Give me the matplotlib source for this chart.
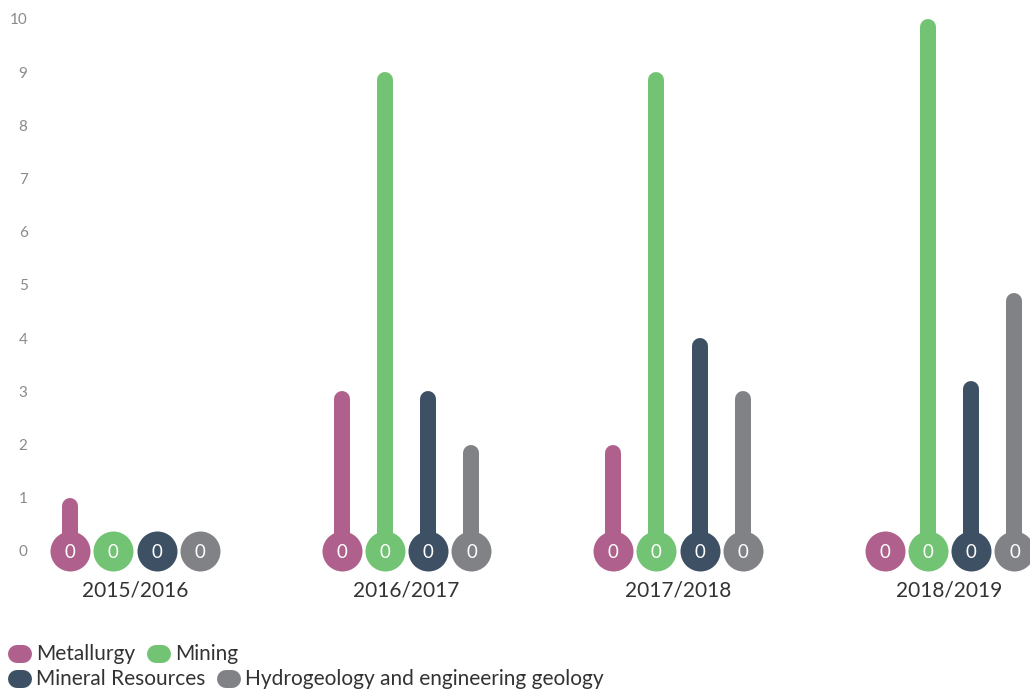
import matplotlib
matplotlib.use("Agg")
import matplotlib.pyplot as plt
from matplotlib.lines import Line2D

plt.rcParams['font.family'] = ['Lato', 'DejaVu Sans']

# 데이터
years = ["2015/2016", "2016/2017", "2017/2018", "2018/2019"]
series_names = ["Metallurgy", "Mining", "Mineral Resources", "Hydrogeology and engineering geology"]
metallurgy = [1, 3, 2, 0]
mining = [0, 9, 9, 10]
mineral_resources = [0, 3, 4, 3.2]
hydrogeology = [0, 2, 3, 4.85]
# 원 안에 표시되는 값
bubble_labels = ["0", "0", "0", "0"]

colors = ["#b0608c", "#73c374", "#3d5064", "#808286"]
all_series = [metallurgy, mining, mineral_resources, hydrogeology]

fig = plt.figure(figsize=(10.3, 6.9), dpi=100)
ax = fig.add_axes([40 / 1030, 119 / 690, 990 / 1030, 566 / 690])
ax.set_xlim(-0.35, -0.35 + 990 / 271.5)
ax.set_ylim(-0.376, 10.263)

# 막대 폭과 둥근 끝 처리
bar_px = 16
bar_lw = bar_px * 72 / 100
px_per_unit = 566 / (10.263 + 0.376)
cap = (bar_px / 2) / px_per_unit
offsets = [-1.5, -0.5, 0.5, 1.5]
step = 43.3 / 271.5

for s, (vals, col) in enumerate(zip(all_series, colors)):
    for i, v in enumerate(vals):
        x = i + offsets[s] * step
        if v > 0:
            ax.plot([x, x], [0, max(v - cap, 0)], color=col, lw=bar_lw,
                    solid_capstyle="round", zorder=2, clip_on=False)
        ax.scatter([x], [0], s=(40 * 72 / 100) ** 2, color=col, zorder=3,
                   linewidths=0, clip_on=False)
        ax.text(x, -0.02, bubble_labels[i], color="white", fontsize=13.5,
                ha="center", va="center", zorder=4, clip_on=False)

ax.set_yticks(range(0, 11))
ax.set_yticklabels([str(t) for t in range(0, 11)])
ax.set_xticks(range(len(years)))
ax.set_xticklabels(years)
ax.tick_params(axis="y", length=0, pad=9, labelsize=11, labelcolor="#8a8a8a")
ax.tick_params(axis="x", length=0, pad=7, labelsize=15, labelcolor="#333333")
for sp in ax.spines.values():
    sp.set_visible(False)

# 범례 (두 줄로 흐르듯 배치)
fig.canvas.draw()
renderer = fig.canvas.get_renderer()
rows = [[0, 1], [2, 3]]
row_y = [654, 679]
for r, idxs in enumerate(rows):
    xpx = 8
    ypx = 690 - row_y[r]
    for k in idxs:
        pill = Line2D([(xpx + 9) / 1030, (xpx + 15) / 1030], [ypx / 690, ypx / 690],
                      transform=fig.transFigure, color=colors[k],
                      lw=18 * 72 / 100, solid_capstyle="round")
        fig.lines.append(pill)
        t = fig.text((xpx + 28) / 1030, ypx / 690, series_names[k],
                     fontsize=15, color="#333333", va="center", ha="left")
        bb = t.get_window_extent(renderer)
        xpx = bb.x1 + 12

fig.savefig("out.png", dpi=100)
